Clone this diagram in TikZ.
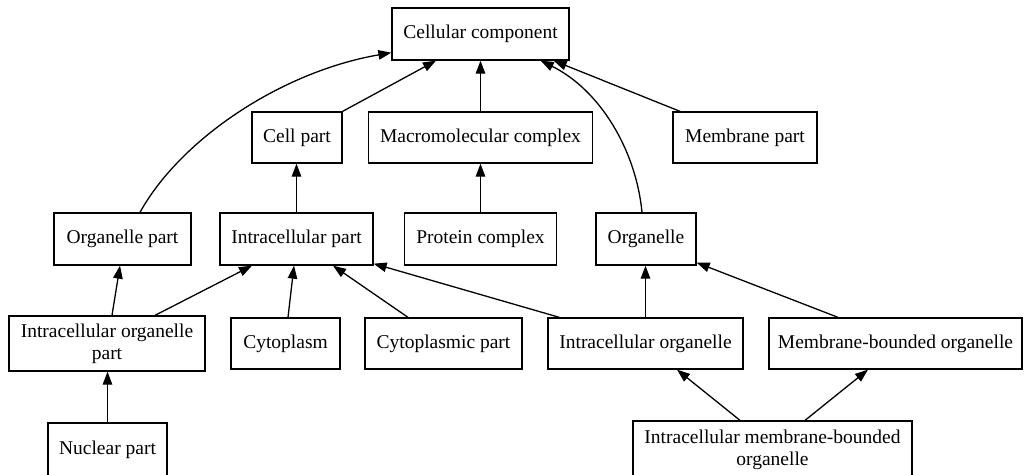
\documentclass[tikz,border=0pt]{standalone}
\usepackage{fontspec}
\setmainfont{Liberation Serif}
\usetikzlibrary{arrows.meta}
\begin{document}
\begin{tikzpicture}[x=1pt,y=-1pt,
  box/.style={draw, line width=1.3pt, rectangle, inner sep=0pt, align=center,
    font=\fontsize{19.5}{22}\selectfont},
  edge/.style={line width=1.3pt, -{Triangle[length=13pt,width=9.5pt]}}]
\useasboundingbox (0,0) rectangle (1024,474);
% row 1
\node[box, minimum width=177pt, minimum height=52pt] (cc) at (480.5,34) {Cellular component};
% row 2
\node[box, minimum width=90pt, minimum height=51pt] (cellpart) at (297,137.5) {Cell part};
\node[box, minimum width=224pt, minimum height=51pt] (macro) at (480.5,137.5) {Macromolecular complex};
\node[box, minimum width=144pt, minimum height=51pt] (membpart) at (745,137.5) {Membrane part};
% row 3
\node[box, minimum width=137pt, minimum height=52pt] (orgpart) at (122.5,239) {Organelle part};
\node[box, minimum width=153pt, minimum height=52pt] (intrapart) at (296.5,239) {Intracellular part};
\node[box, minimum width=152pt, minimum height=52pt] (protein) at (480.5,239) {Protein complex};
\node[box, minimum width=100pt, minimum height=52pt] (organelle) at (646,239) {Organelle};
% row 4
\node[box, minimum width=196pt, minimum height=55pt] (iop) at (107,343.5) {Intracellular organelle\\part};
\node[box, minimum width=109pt, minimum height=51pt] (cytoplasm) at (285.5,343.5) {Cytoplasm};
\node[box, minimum width=157pt, minimum height=51pt] (cytopart) at (443.5,343.5) {Cytoplasmic part};
\node[box, minimum width=195pt, minimum height=51pt] (io) at (645.5,343.5) {Intracellular organelle};
\node[box, minimum width=253pt, minimum height=51pt] (mbo) at (895.5,343.5) {Membrane-bounded organelle};
% row 5
\node[box, minimum width=119pt, minimum height=53pt] (nuclear) at (107.5,449.5) {Nuclear part};
\node[box, minimum width=279pt, minimum height=57pt] (imbo) at (772.5,449.5) {Intracellular membrane-bounded\\organelle};
% edges
\draw[edge] ([xshift=17.5pt]orgpart.north) .. controls (180,140) and (280,72) .. ([yshift=8pt]cc.south west);
\draw[edge] (cellpart.north east) -- ([xshift=-44.5pt]cc.south);
\draw[edge] (macro.north) -- (cc.south);
\draw[edge] ([xshift=-65pt]membpart.north) -- ([xshift=-16pt]cc.south east);
\draw[edge] ([xshift=-4pt]organelle.north) .. controls (636,150) and (600,90) .. ([xshift=-29pt]cc.south east);
\draw[edge] (intrapart.north) -- (intrapart.north |- cellpart.south);
\draw[edge] (protein.north) -- (macro.south);
\draw[edge] ([xshift=5pt]iop.north) -- ([xshift=-2.5pt]orgpart.south);
\draw[edge] ([xshift=48pt]iop.north) -- ([xshift=-44.5pt]intrapart.south);
\draw[edge] ([xshift=2.5pt]cytoplasm.north) -- ([xshift=-2.5pt]intrapart.south);
\draw[edge] ([xshift=-35.5pt]cytopart.north) -- ([xshift=36.5pt]intrapart.south);
\draw[edge] ([xshift=12pt]io.north west) -- ([yshift=2pt]intrapart.south east);
\draw[edge] (io.north) -- (io.north |- organelle.south);
\draw[edge] ([xshift=-57.5pt]mbo.north) -- ([yshift=3pt]organelle.south east);
\draw[edge] (nuclear.north) -- (nuclear.north |- iop.south);
\draw[edge] ([xshift=-32.5pt]imbo.north) -- ([xshift=31.5pt]io.south);
\draw[edge] ([xshift=32.5pt]imbo.north) -- ([xshift=-27.5pt]mbo.south);
\end{tikzpicture}
\end{document}
